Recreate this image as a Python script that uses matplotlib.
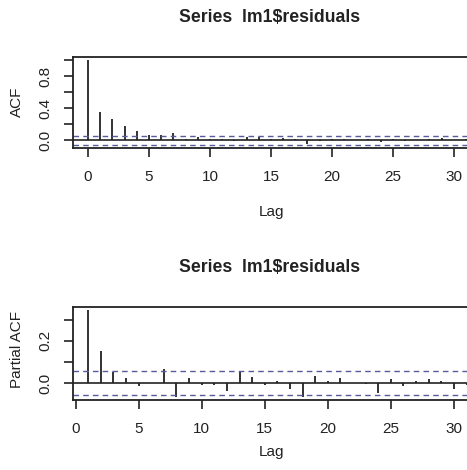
import matplotlib
matplotlib.use("Agg")
import matplotlib.pyplot as plt
import numpy as np

plt.rcParams['font.family'] = ['Liberation Sans', 'DejaVu Sans']

acf_lags = list(range(0, 32))
acf_vals = [1.0, 0.35, 0.26, 0.18, 0.12, 0.07, 0.06, 0.085, 0.01, 0.04,
            0.02, 0.01, -0.01, 0.045, 0.04, 0.02, 0.025, 0.01, -0.05, -0.005,
            0.01, 0.02, 0.005, 0.02, -0.02, 0.01, -0.01, 0.005, 0.02, 0.03,
            0.005, 0.01]

pacf_lags = list(range(1, 32))
pacf_vals = [0.344, 0.153, 0.055, 0.024, -0.013, 0.0, 0.066, -0.063, 0.024, -0.01,
             -0.01, -0.035, 0.058, 0.028, -0.008, 0.011, -0.027, -0.063, 0.036, 0.011,
             0.024, 0.0, -0.005, -0.044, 0.019, -0.011, 0.011, 0.02, 0.013, -0.028,
             -0.01]

ci = 0.056
title = "Series  lm1$residuals"
x_ticks = [0, 5, 10, 15, 20, 25, 30]

W, H = 467, 470
fig = plt.figure(figsize=(W / 100, H / 100), dpi=100)

def px_axes(left, top, right, bottom):
    return fig.add_axes([left / W, 1 - bottom / H, (right - left) / W, (bottom - top) / H])

def ftext(x, y, s, **kw):
    fig.text(x / W, 1 - y / H, s, ha='center', va='center', **kw)

ink = '#222222'
ci_col = '#5a5a9e'

def style(ax, yticks, ylabels):
    for s in ax.spines.values():
        s.set_color(ink)
        s.set_linewidth(1.3)
    ax.set_xticks(x_ticks)
    ax.set_xticklabels([str(t) for t in x_ticks], fontsize=11, color=ink)
    ax.set_yticks(yticks)
    ax.set_yticklabels(ylabels, fontsize=11, color=ink, rotation=90, va='center')
    ax.tick_params(axis='both', direction='out', length=6.5, width=1.2, color=ink)
    ax.tick_params(axis='x', pad=9)
    ax.tick_params(axis='y', pad=8)

# ACF panel
ax1 = px_axes(73, 57, 481, 148)
ax1.vlines(acf_lags, 0, acf_vals, color=ink, lw=1.3)
ax1.axhline(0, color=ink, lw=1.2)
ax1.axhline(ci, color=ci_col, lw=1.0, ls=(0, (4, 3)))
ax1.axhline(-ci, color=ci_col, lw=1.0, ls=(0, (4, 3)))
ax1.set_xlim(-1.24, 32.24)
ax1.set_ylim(-0.098, 1.042)
style(ax1, [0, 0.2, 0.4, 0.6, 0.8, 1.0], ['0.0', '', '0.4', '', '0.8', ''])
ftext(270, 18, title, fontsize=12.7, fontweight='bold', color=ink)
ftext(272, 212, 'Lag', fontsize=11, color=ink)
ftext(17, 102, 'ACF', fontsize=11, color=ink, rotation=90)

# PACF panel
ax2 = px_axes(73, 307, 481.7, 400)
ax2.vlines(pacf_lags, 0, pacf_vals, color=ink, lw=1.3)
ax2.axhline(0, color=ink, lw=1.2)
ax2.axhline(ci, color=ci_col, lw=1.0, ls=(0, (4, 3)))
ax2.axhline(-ci, color=ci_col, lw=1.0, ls=(0, (4, 3)))
ax2.set_xlim(-0.2, 32.2)
ax2.set_ylim(-0.079, 0.360)
style(ax2, [0, 0.1, 0.2, 0.3], ['0.0', '', '0.2', ''])
ftext(270, 268, title, fontsize=12.7, fontweight='bold', color=ink)
ftext(272, 452, 'Lag', fontsize=11, color=ink)
ftext(17, 350, 'Partial ACF', fontsize=11, color=ink, rotation=90)

fig.savefig('out.png', dpi=100)
